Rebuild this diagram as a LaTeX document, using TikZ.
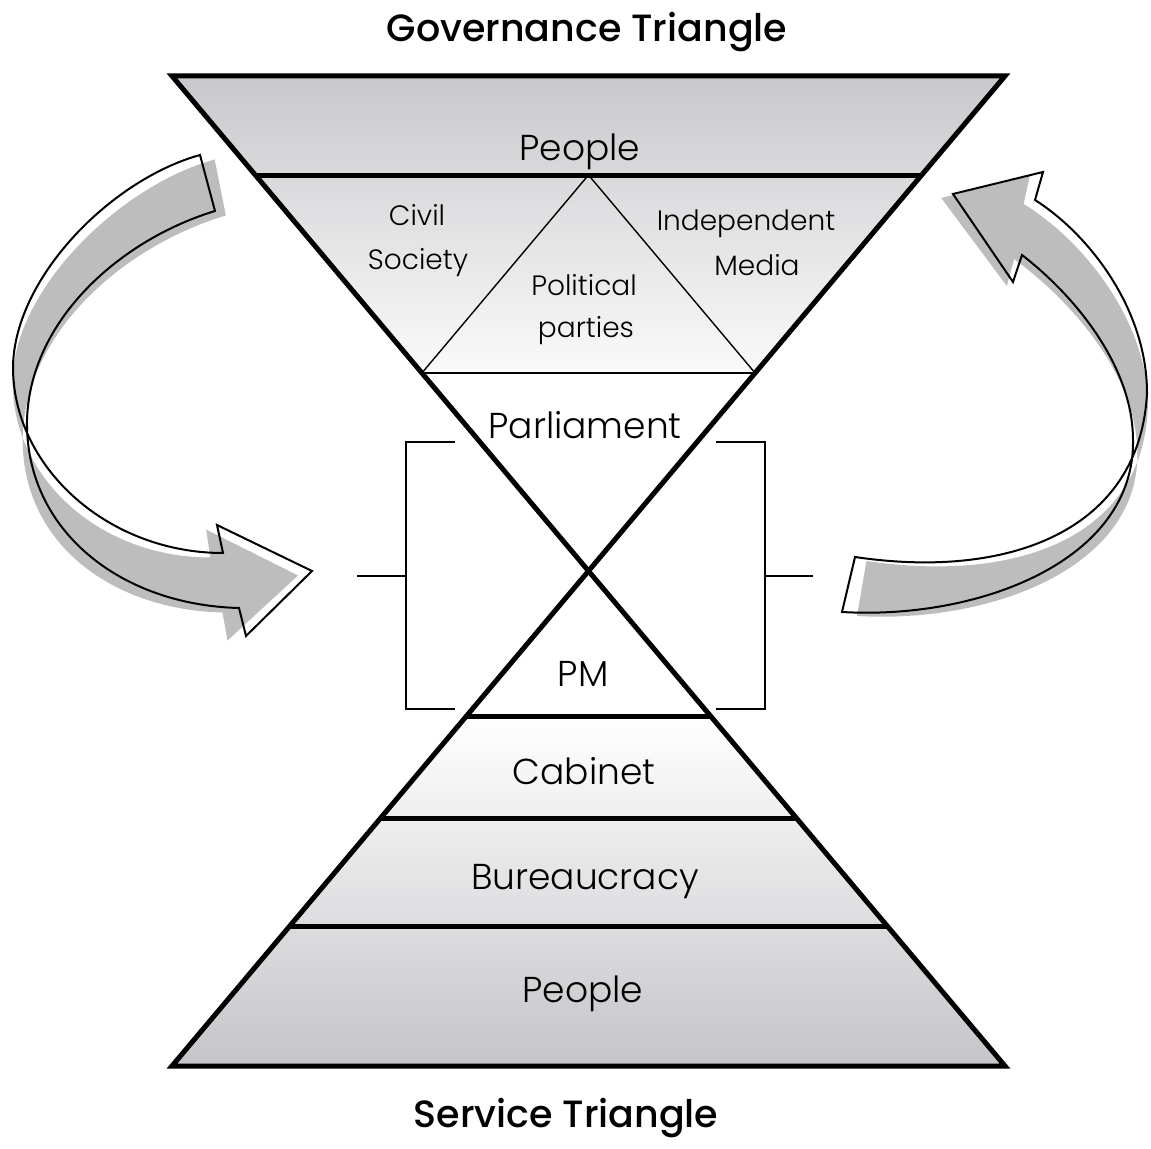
\documentclass[tikz,border=0pt]{standalone}
\usepackage{fontspec}
\setmainfont{Poppins}[UprightFont=* Light, BoldFont=* Medium]
\usetikzlibrary{calc}
\definecolor{topgray}{RGB}{200,201,204}
\definecolor{botgray}{RGB}{196,197,200}
\definecolor{arrowgray}{RGB}{189,189,189}
\tikzset{
  thickline/.style={line width=2.5pt, line join=miter},
  medline/.style={line width=1.4pt},
  thinline/.style={line width=0.7pt},
  biglabel/.style={font=\fontsize{18}{20}\selectfont, anchor=base, inner sep=0pt},
  smalllabel/.style={font=\fontsize{14}{16}\selectfont, anchor=base, inner sep=0pt},
  titlelabel/.style={font=\bfseries\fontsize{19}{21}\selectfont, anchor=base, inner sep=0pt},
  arrowfill/.style={fill=arrowgray, draw=none},
  arrowline/.style={draw=black, line width=1pt, line join=miter},
}
\def\LArrowPath{(200,155) .. controls (110,180) and (12,280) .. (13,370) .. controls (15,470) and (110,553) .. (223,553) -- (217,525) -- (312,571) -- (246,636) -- (239,608) .. controls (120,605) and (25,530) .. (27,420) .. controls (30,320) and (120,240) .. (215,211) -- cycle}
\def\RArrowPath{(855,557) .. controls (1010,580) and (1140,530) .. (1147,393) .. controls (1147,310) and (1090,235) .. (1035,200) -- (1043,172) -- (953,194) -- (1013,282) -- (1022,255) .. controls (1080,300) and (1133,370) .. (1133,440) .. controls (1135,560) and (980,620) .. (842,612) -- cycle}
\begin{document}
\begin{tikzpicture}[x=0.5pt,y=-0.5pt]
\useasboundingbox (0,0) rectangle (1151,1149);
% corners of the hourglass
\coordinate (TL) at (172,76);
\coordinate (TR) at (1005,76);
\coordinate (BL) at (172,1066);
\coordinate (BR) at (1005,1066);
% band points
\coordinate (pL) at ($(TL)!0.1!(BR)$);
\coordinate (pR) at ($(TR)!0.1!(BL)$);
\coordinate (iL) at ($(TL)!0.3!(BR)$);
\coordinate (iR) at ($(TR)!0.3!(BL)$);
\coordinate (iA) at ($(pL)!0.5!(pR)$);
\coordinate (mL) at ($(TR)!0.6465!(BL)$);
\coordinate (mR) at ($(TL)!0.6465!(BR)$);
\coordinate (cL) at ($(TR)!0.7495!(BL)$);
\coordinate (cR) at ($(TL)!0.7495!(BR)$);
\coordinate (bL) at ($(TR)!0.8586!(BL)$);
\coordinate (bR) at ($(TL)!0.8586!(BR)$);
% shadings
\shade[top color=topgray, bottom color=black!2] (TL) -- (TR) -- (iR) -- (iL) -- cycle;
\shade[top color=white, bottom color=botgray] (mL) -- (mR) -- (BR) -- (BL) -- cycle;
% inner triangle
\draw[thinline] (iL) -- (iA) -- (iR);
\draw[medline] (iL) -- (iR);
% band lines
\draw[thickline] (pL) -- (pR);
\draw[thickline] (mL) -- (mR);
\draw[thickline] (cL) -- (cR);
\draw[thickline] (bL) -- (bR);
% outer hourglass
\draw[thickline] (TL) -- (TR) -- (BL) -- (BR) -- cycle;
% brackets
\coordinate (lb1) at (455,442);
\coordinate (lb2) at (406,442);
\coordinate (lb3) at (406,709);
\coordinate (lb4) at (455,709);
\coordinate (lbm) at (406,576);
\coordinate (lbs) at (357,576);
\coordinate (rb1) at (716,442);
\coordinate (rb2) at (765,442);
\coordinate (rb3) at (765,709);
\coordinate (rb4) at (716,709);
\coordinate (rbm) at (765,576);
\coordinate (rbs) at (813,576);
\draw[thinline] (lb1) -- (lb2) -- (lb3) -- (lb4);
\draw[thinline] (lbm) -- (lbs);
\draw[thinline] (rb1) -- (rb2) -- (rb3) -- (rb4);
\draw[thinline] (rbm) -- (rbs);
% arrows
\fill[arrowfill, cm={1,0,0.069,1,(25.4,4.5)}] \LArrowPath;
\draw[arrowline] \LArrowPath;
\fill[arrowfill, cm={1,0,-0.064,1,(-24.2,4)}] \RArrowPath;
\draw[arrowline] \RArrowPath;
% labels
\node[titlelabel] (govtitle) at (587,42) {Governance Triangle};
\node[titlelabel] (servtitle) at (566,1127) {Service Triangle};
\node[biglabel] (peopletop) at (580,161) {People};
\node[smalllabel] (civil) at (417,226) {Civil};
\node[smalllabel] (society) at (418,270) {Society};
\node[smalllabel] (political) at (584,296) {Political};
\node[smalllabel] (parties) at (586,338) {parties};
\node[smalllabel] (indep) at (746,231) {Independent};
\node[smalllabel] (media) at (757,276) {Media};
\node[biglabel] (parl) at (585,439) {Parliament};
\node[biglabel] (pm) at (583,686) {PM};
\node[biglabel] (cabinet) at (584,784) {Cabinet};
\node[biglabel] (bureau) at (585,889) {Bureaucracy};
\node[biglabel] (peoplebot) at (583,1002) {People};
\end{tikzpicture}
\end{document}
